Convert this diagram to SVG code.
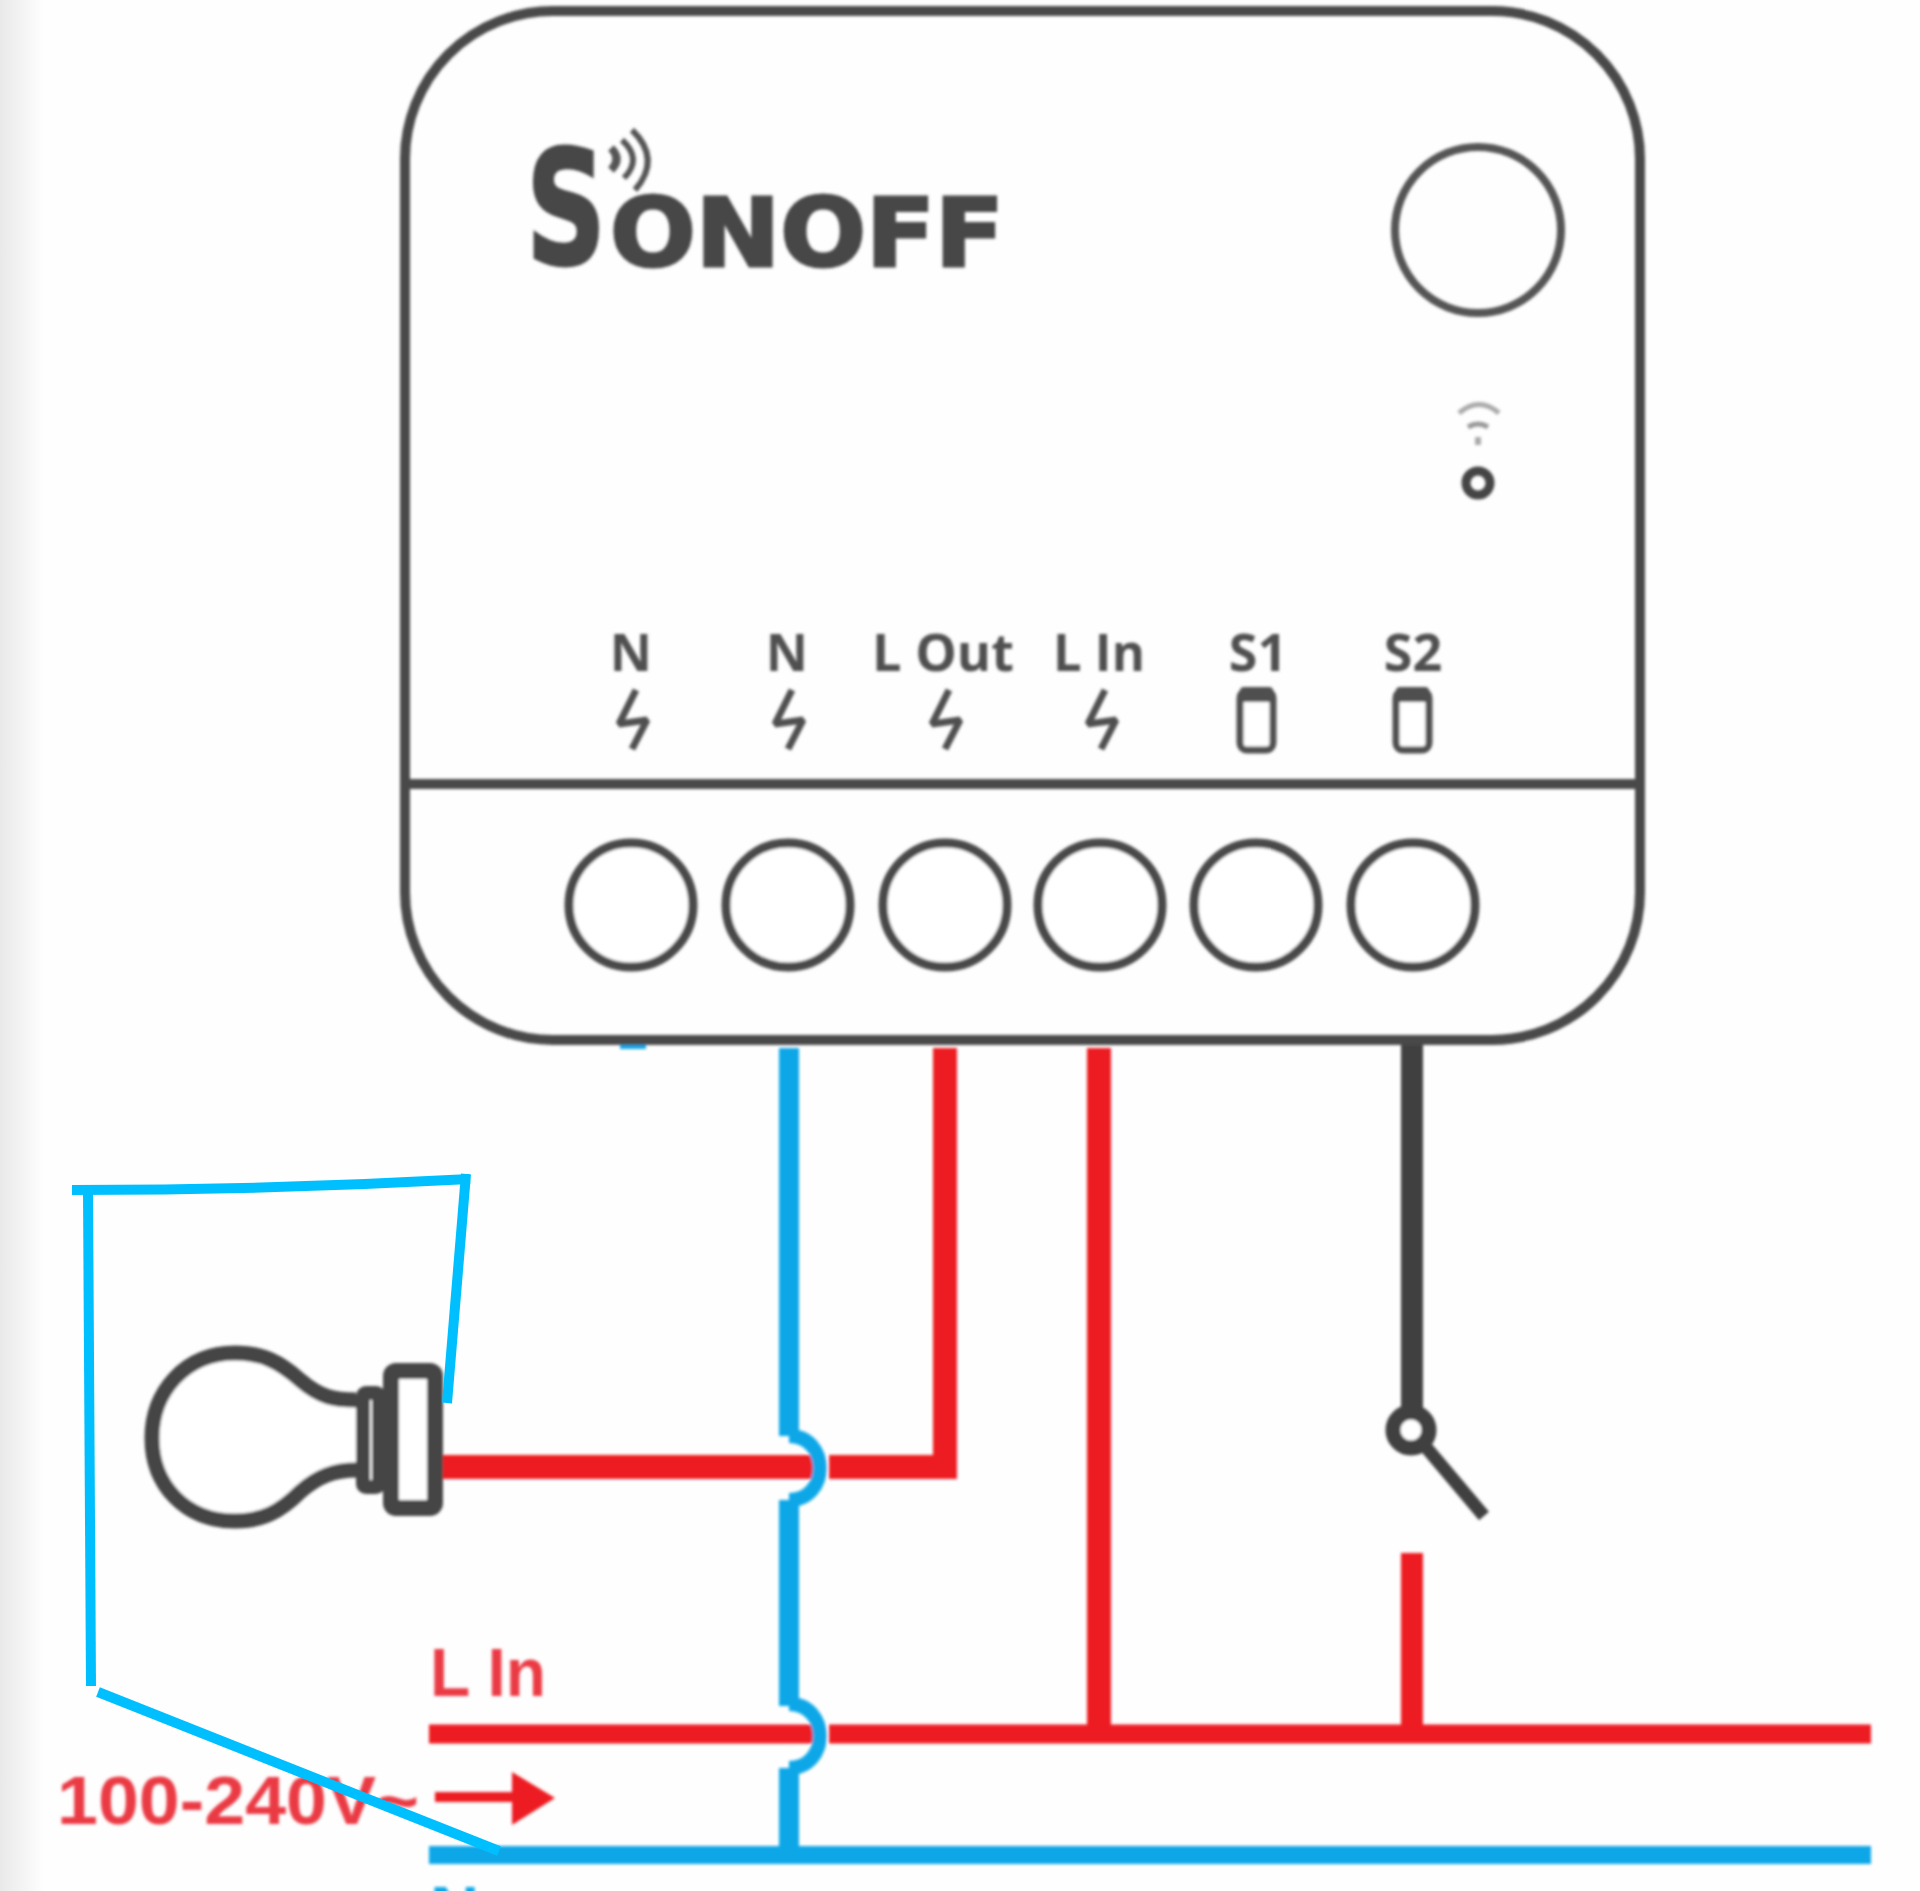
<svg xmlns="http://www.w3.org/2000/svg" width="1920" height="1891" viewBox="0 0 1920 1891">
<defs>
<linearGradient id="edge" x1="0" x2="1" y1="0" y2="0"><stop offset="0" stop-color="#e9e9e9"/><stop offset="1" stop-color="#fefefe"/></linearGradient>
<filter id="soft" x="-5%" y="-5%" width="110%" height="110%"><feGaussianBlur stdDeviation="1.5"/></filter>
<path id="bolt" d="M4 690L-13 724L15 720L0 749"/>
</defs>
<style>
.dev{fill:none;stroke:#4a4a4a;stroke-width:10}
.term{fill:#fff;stroke:#4a4a4a;stroke-width:9}
.bolt{fill:none;stroke:#505050;stroke-width:7;stroke-linejoin:bevel}
.lbl{font-family:"Open Sans","Liberation Sans",sans-serif;font-weight:700;font-size:52px;fill:#505050;text-anchor:middle}
.logo{font-family:"DejaVu Sans","Liberation Sans",sans-serif;font-weight:700;fill:#464646;stroke:#464646;stroke-width:3}
.red{fill:none;stroke:#ed1c24}
.blue{fill:none;stroke:#0ca7e8}
.dark{fill:none;stroke:#404040}
.pen{fill:none;stroke:#00bfff;stroke-width:10}
.rtxt{font-family:"Liberation Sans",sans-serif;font-weight:700;font-size:68px;fill:#ea3a45}
.sw{fill:#fff;stroke:#505050;stroke-width:7}
</style>
<rect width="1920" height="1891" fill="#fefefe"/>
<rect width="44" height="1891" fill="url(#edge)"/>
<g filter="url(#soft)">
<g id="connectors">
<path class="red" stroke-width="24" d="M441 1467H815M829 1467H945V1048"/>
<path class="red" stroke-width="24" d="M1099 1048V1733"/>
<path class="red" stroke-width="19" d="M429 1734H815M829 1734H1871"/>
<path class="red" stroke-width="22" d="M1412 1553V1733"/>
<path class="blue" stroke-width="20" d="M789 1048V1436"/>
<path class="blue" stroke-width="20" d="M789 1500V1706"/>
<path class="blue" stroke-width="20" d="M789 1768V1855"/>
<path class="blue" stroke-width="14" d="M789 1436C830 1436 830 1500 789 1500"/>
<path class="blue" stroke-width="14" d="M789 1704C830 1704 830 1768 789 1768"/>
<path class="blue" stroke-width="18" d="M429 1855H1871"/>
<path class="dark" stroke-width="22" d="M1412 1045V1430"/>
<path class="blue" stroke-width="8" d="M620 1045H646"/>
</g>
<g id="device">
<rect class="dev" x="405" y="11" width="1235" height="1029" rx="148"/>
<path class="dev" d="M405 784H1640"/>
<circle cx="1478" cy="230" r="83" fill="none" stroke="#555" stroke-width="8"/>
<path d="M1459 413Q1479 396 1499 413" fill="none" stroke="#aaa" stroke-width="5"/>
<path d="M1468 427Q1478 421 1488 427" fill="none" stroke="#999" stroke-width="5"/>
<rect x="1475" y="437" width="6" height="8" fill="#aaa"/>
<circle cx="1478" cy="483" r="12" fill="none" stroke="#444" stroke-width="9"/>
</g>
<g id="logo">
<text class="logo" x="526" y="264" font-size="158" textLength="80" lengthAdjust="spacingAndGlyphs">S</text>
<text class="logo" x="610" y="266" font-size="95" textLength="394" lengthAdjust="spacingAndGlyphs">ONOFF</text>
<path d="M611 148Q622 159 611 170" fill="none" stroke="#555" stroke-width="8"/>
<path d="M622 140Q643 159 624 178" fill="none" stroke="#555" stroke-width="6"/>
<path d="M632 130Q662 159 635 190" fill="none" stroke="#555" stroke-width="6"/>
</g>
<g id="terminal-n1"><text class="lbl" x="631" y="671">N</text><use href="#bolt" x="632" class="bolt"/><circle class="term" cx="631" cy="905" r="62"/></g>
<g id="terminal-n2"><text class="lbl" x="787" y="671">N</text><use href="#bolt" x="788" class="bolt"/><circle class="term" cx="788" cy="905" r="62"/></g>
<g id="terminal-lout"><text class="lbl" x="943" y="671" textLength="142" lengthAdjust="spacingAndGlyphs">L Out</text><use href="#bolt" x="945" class="bolt"/><circle class="term" cx="945" cy="905" r="62"/></g>
<g id="terminal-lin"><text class="lbl" x="1099" y="671" textLength="92" lengthAdjust="spacingAndGlyphs">L In</text><use href="#bolt" x="1101" class="bolt"/><circle class="term" cx="1100" cy="905" r="62"/></g>
<g id="terminal-s1"><text class="lbl" x="1258" y="671">S1</text><rect class="sw" x="1240" y="691" width="33" height="59" rx="7"/><rect x="1240" y="687" width="33" height="15" rx="4" fill="#505050"/><circle class="term" cx="1256" cy="905" r="62"/></g>
<g id="terminal-s2"><text class="lbl" x="1413" y="671">S2</text><rect class="sw" x="1396" y="691" width="33" height="59" rx="7"/><rect x="1396" y="687" width="33" height="15" rx="4" fill="#505050"/><circle class="term" cx="1413" cy="905" r="62"/></g>
<g id="lamp">
<path d="M356 1400C335 1400 321 1398 300 1380C280 1362 262 1353 235 1353C185 1353 152 1392 152 1438C152 1485 185 1521 235 1521C262 1521 280 1512 300 1492C318 1476 335 1470 356 1470" fill="#fff" stroke="#444" stroke-width="15"/>
<rect x="363" y="1393" width="16" height="94" rx="3" fill="#fff" stroke="#444" stroke-width="14"/>
<rect x="391" y="1371" width="44" height="137" rx="5" fill="#fff" stroke="#444" stroke-width="16"/>
</g>
<g id="switch">
<circle cx="1411" cy="1430" r="18" fill="#fff" stroke="#404040" stroke-width="15"/>
<path class="dark" stroke-width="13" d="M1425 1446L1484 1516"/>
</g>
<g id="supply-labels">
<text class="rtxt" x="430" y="1696" textLength="116" lengthAdjust="spacingAndGlyphs">L In</text>
<text class="rtxt" x="57" y="1824" textLength="362" lengthAdjust="spacingAndGlyphs">100-240V~</text>
<path d="M435 1797H518" fill="none" stroke="#ed1c24" stroke-width="10"/>
<path d="M512 1772L555 1798L512 1825Z" fill="#ed1c24"/>
<text x="430" y="1934" font-family="Liberation Sans, sans-serif" font-weight="700" font-size="68" fill="#0ca7e8">N</text>
</g>
</g>
<g id="pen-strokes">
<path class="pen" d="M72 1190Q270 1190 470 1179"/>
<path class="pen" d="M466 1174L447 1403"/>
<path class="pen" d="M88 1192L91 1686"/>
<path class="pen" d="M98 1692L499 1851"/>
</g>
</svg>
